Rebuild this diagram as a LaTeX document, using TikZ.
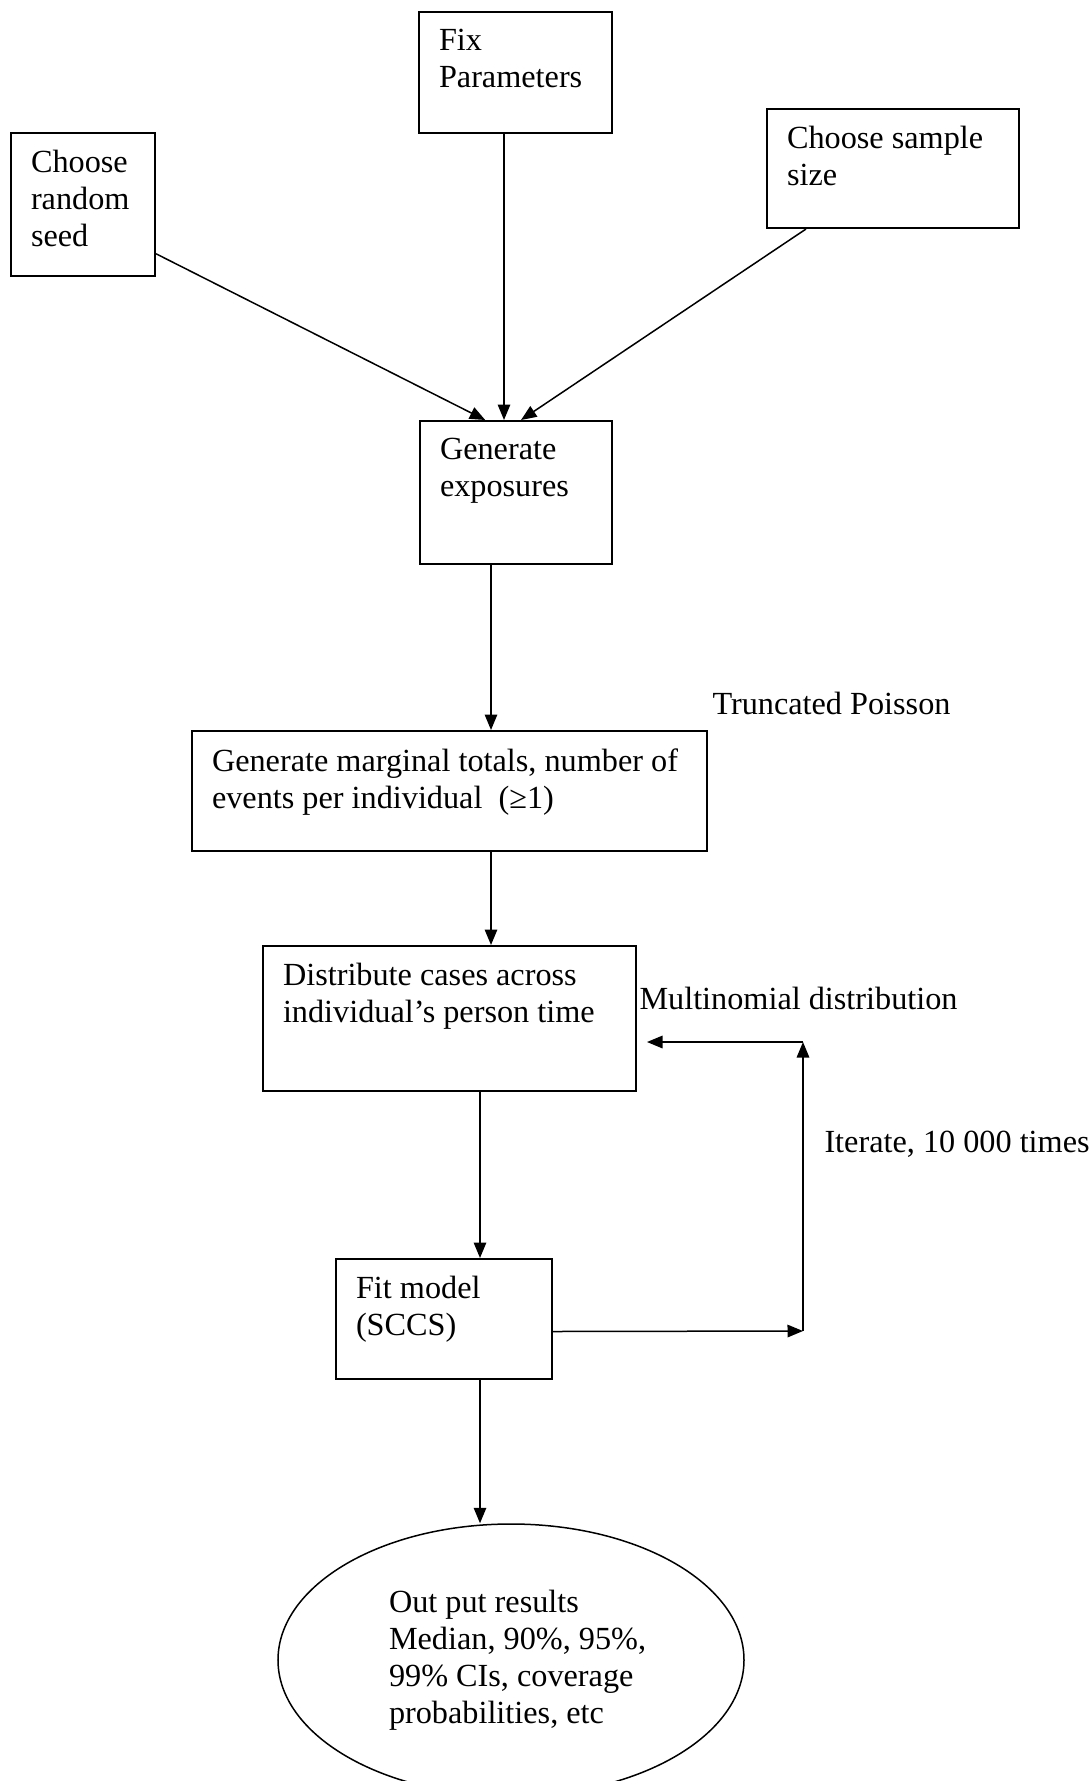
\documentclass[tikz,border=0pt]{standalone}
\usepackage{fontspec}
\setmainfont{Liberation Serif}
\usetikzlibrary{arrows.meta,shapes.geometric}

\newcommand{\stagetext}[3]{\parbox[t][#2][t]{#1}{\raggedright #3}}

\begin{document}
\begin{tikzpicture}[x=0.4pt, y=-0.4pt,
  font=\fontsize{12.9}{14.8}\selectfont,
  stage/.style={draw, line width=0.8pt, anchor=north west, inner xsep=8pt, inner ysep=7pt},
  flow/.style={-{Triangle[length=6.2pt,width=5pt]}, line width=0.6pt},
  note/.style={anchor=west, inner sep=0pt}]
  \useasboundingbox (0,0) rectangle (1091,1781);

  % Input boxes
  \node[stage] (seed) at (10,132) {\stagetext{41.6pt}{43.2pt}{Choose\\random\\seed}};
  \node[stage] (fix) at (418,11) {\stagetext{61.2pt}{34.4pt}{Fix\\Parameters}};
  \node[stage] (sample) at (766,108) {\stagetext{84.8pt}{33.6pt}{Choose sample\\size}};

  % Simulation steps
  \node[stage] (expo) at (419,420) {\stagetext{60.8pt}{43.2pt}{Generate\\exposures}};
  \node[stage] (marg) at (191,730) {\stagetext{190pt}{34pt}{Generate marginal totals, number of\\events per individual~ (≥1)}};
  \node[stage] (dist) at (262,945) {\stagetext{133.2pt}{44pt}{Distribute cases across\\individual's person time}};
  \node[stage] (fit) at (335,1258) {\stagetext{70.4pt}{34pt}{Fit model\\(SCCS)}};

  % Results
  \node[ellipse, draw, line width=0.6pt, minimum width=186.4pt, minimum height=108.8pt, inner sep=0pt] (out) at (511,1660)
    {\parbox{97.6pt}{\raggedright Out put results\\\mbox{Median, 90\%, 95\%,}\\\mbox{99\% CIs, coverage}\\\mbox{probabilities, etc}}};

  % Side notes
  \node[note] (poisson) at (712,703) {Truncated Poisson};
  \node[note] (multi) at (639,998) {Multinomial distribution};
  \node[note] (iter) at (824,1144) {Iterate, 10~000 times};

  % Loop corners
  \coordinate (loopbot) at (803,1331);
  \coordinate (looptop) at (803,1042);
  \coordinate (loopend) at (647,1042);

  % Arrows into exposures
  \draw[flow] (seed.-34) -- (expo.113);
  \draw[flow] ([xshift=-4.6pt]fix.south) -- ([xshift=-4.6pt]fix.south |- expo.north);
  \draw[flow] ([xshift=-34.8pt]sample.south) -- ([xshift=2pt]expo.north);

  % Main chain
  \draw[flow] ([xshift=-10pt]expo.south) -- ([xshift=-10pt]expo.south |- marg.north);
  \draw[flow] ([xshift=16.6pt]marg.south) -- ([xshift=16.6pt]marg.south |- dist.north);
  \draw[flow] ([xshift=12.2pt]dist.south) -- ([xshift=12.2pt]dist.south |- fit.north);
  \draw[flow] ([xshift=14.4pt]fit.south) -- ([xshift=14.4pt]fit.south |- out.north);

  % Iteration loop
  \draw[flow] ([yshift=-5pt]fit.east) -- (loopbot);
  \draw[flow] (loopbot) -- (looptop);
  \draw[flow] (looptop) -- (loopend);
\end{tikzpicture}
\end{document}
